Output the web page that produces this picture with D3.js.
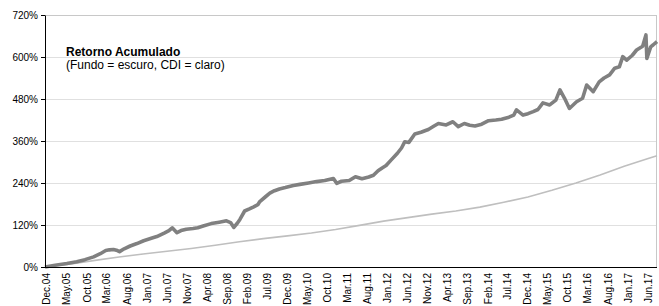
<!DOCTYPE html>
<html>
<head>
<meta charset="utf-8">
<script src="https://cdn.jsdelivr.net/npm/d3@7/dist/d3.min.js"></script>
<style>
  body { margin: 0; background: #fff; }
  svg { display: block; font-family: "Liberation Sans", Arial, sans-serif; }
</style>
</head>
<body>
<svg id="chart" width="659" height="306"></svg>
<script>
// fund (dark line)
const fundDates = ["2004-11-16","2005-02-01","2005-05-01","2005-07-15","2005-09-15","2005-11-20","2006-01-10","2006-02-20",
  "2006-03-20","2006-04-20","2006-05-20","2006-06-05","2006-07-10","2006-08-25","2006-10-15","2006-12-05",
  "2007-02-01","2007-03-15","2007-05-10","2007-06-15","2007-07-10","2007-08-15","2007-09-15","2007-10-25",
  "2007-12-15","2008-01-20","2008-03-01","2008-05-01","2008-07-01","2008-08-25","2008-09-25","2008-10-20",
  "2008-11-15","2008-12-05","2009-01-10","2009-02-15","2009-03-20","2009-04-20","2009-05-05","2009-06-15",
  "2009-07-20","2009-08-25","2009-10-01","2009-11-15","2010-01-15","2010-03-05","2010-05-10","2010-07-10",
  "2010-09-10","2010-11-15","2010-12-10","2011-01-15","2011-03-15","2011-05-01","2011-06-20","2011-08-10",
  "2011-09-15","2011-10-20","2011-11-20","2011-12-20","2012-01-28","2012-03-15","2012-04-15","2012-05-10",
  "2012-06-10","2012-07-25","2012-09-10","2012-10-15","2012-11-05","2012-12-15","2013-01-20","2013-03-20",
  "2013-05-10","2013-06-20","2013-08-05","2013-09-15","2013-10-25","2013-12-15","2014-02-05","2014-04-01",
  "2014-05-15","2014-07-10","2014-08-15","2014-09-05","2014-10-25","2014-12-01","2015-01-10","2015-02-15",
  "2015-03-25","2015-05-15","2015-07-01","2015-08-01","2015-09-05","2015-10-12","2015-12-05","2016-01-20",
  "2016-02-20","2016-04-10","2016-05-25","2016-07-01","2016-08-12","2016-09-20","2016-10-25","2016-11-20",
  "2016-12-20","2017-02-01","2017-03-05","2017-04-20","2017-05-15","2017-05-22","2017-06-20","2017-07-10",
  "2017-08-07"];
const fundValues = [0, 5, 10, 15, 21, 29, 38, 47,
  49, 50, 47, 44, 52, 60, 67, 75,
  82, 87, 97, 104, 112, 98, 104, 108,
  110, 112, 117, 124, 128, 132, 127, 113,
  125, 136, 160, 166, 172, 178, 187, 200,
  211, 218, 223, 227, 233, 236, 240, 244,
  247, 253, 239, 245, 247, 258, 252, 257,
  262, 275, 283, 290, 306, 325, 340, 358,
  356, 380, 385, 390, 393, 402, 410, 406,
  415, 401, 410, 405, 403, 408, 418, 420,
  422, 428, 434, 449, 434, 438, 444, 450,
  469, 463, 477, 506, 482, 453, 472, 482,
  520, 501, 529, 540, 549, 568, 572, 601,
  591, 605, 620, 631, 663, 596, 629, 635,
  644];

// CDI (light line)
const cdiDates = ["2004-11-16","2005-06-01","2005-12-01","2006-06-01","2006-12-01","2007-06-01","2007-12-01",
  "2008-06-01","2008-12-01","2009-06-01","2009-12-01","2010-06-01","2010-12-01","2011-06-01","2011-12-01",
  "2012-06-01","2012-12-01","2013-06-01","2013-12-01","2014-06-01","2014-12-01","2015-06-01","2015-12-01",
  "2016-06-01","2016-12-01","2017-06-01","2017-08-07"];
const cdiValues = [0, 8.5, 19, 28.5, 37, 45, 53,
  62, 72, 81, 89, 97, 107, 119, 131,
  141, 151, 160, 171, 185, 200, 219, 240,
  263, 288, 310, 318];

const yTicks = [0, 120, 240, 360, 480, 600, 720];
const xTickLabels = ["Dec.04","May.05","Oct.05","Mar.06","Aug.06","Jan.07","Jun.07","Nov.07","Apr.08","Sep.08",
  "Feb.09","Jul.09","Dec.09","May.10","Oct.10","Mar.11","Aug.11","Jan.12","Jun.12","Nov.12","Apr.13",
  "Sep.13","Feb.14","Jul.14","Dec.14","May.15","Oct.15","Mar.16","Aug.16","Jan.17","Jun.17"];

const margin = {top: 15, right: 2, bottom: 39, left: 45},
    width = 659 - margin.left - margin.right,
    height = 306 - margin.top - margin.bottom;

const parseDay = d3.timeParse("%Y-%m-%d");
const parseTick = d3.timeParse("%b.%y");

const fund = fundDates.map((d, i) => ({date: parseDay(d), value: fundValues[i]}));
const cdi = cdiDates.map((d, i) => ({date: parseDay(d), value: cdiValues[i]}));

const svg = d3.select("#chart");
const g = svg.append("g").attr("transform", `translate(${margin.left},${margin.top})`);

const x = d3.scaleTime()
    .domain([parseDay("2004-11-16"), parseDay("2017-08-07")])
    .range([0, width]);
const y = d3.scaleLinear().domain([0, 720]).range([height, 0]);

// grid
g.append("g").selectAll("line")
  .data(yTicks.filter(d => d > 0))
  .enter().append("line")
    .attr("x1", 0).attr("x2", width)
    .attr("y1", d => y(d) + 0.5).attr("y2", d => y(d) + 0.5)
    .attr("stroke", d => d === 720 ? "#c8c8c8" : "#e0e0e0");

g.append("line")
    .attr("x1", width - 0.5).attr("x2", width - 0.5)
    .attr("y1", 0).attr("y2", height)
    .attr("stroke", "#c8c8c8");

const line = d3.line().x(d => x(d.date)).y(d => y(d.value));

g.append("path").datum(cdi)
    .attr("d", line)
    .attr("fill", "none")
    .attr("stroke", "#bfbfbf")
    .attr("stroke-width", 1.6);

g.append("path").datum(fund)
    .attr("d", line)
    .attr("fill", "none")
    .attr("stroke", "#808080")
    .attr("stroke-width", 3.6)
    .attr("stroke-linejoin", "round");

// y axis
const yAxis = g.append("g")
    .call(d3.axisLeft(y).tickValues(yTicks).tickFormat(d => d + "%").tickSize(4).tickSizeOuter(0));
yAxis.selectAll("text").attr("font-size", 10).attr("fill", "#000").attr("font-family", "Liberation Sans, Arial, sans-serif");
yAxis.selectAll("line").attr("stroke", "#000");
yAxis.select(".domain").attr("stroke", "#000");

// x axis
g.append("line")
    .attr("x1", -4).attr("x2", width)
    .attr("y1", height + 0.5).attr("y2", height + 0.5)
    .attr("stroke", "#000");

g.append("g").selectAll("text")
  .data(xTickLabels)
  .enter().append("text")
    .attr("transform", d => `translate(${x(parseTick(d))},${height + 6}) rotate(-90)`)
    .attr("text-anchor", "end")
    .attr("dy", "0.35em")
    .attr("font-size", 10)
    .text(d => d);

// title
const title = g.append("text").attr("x", 21).attr("y", 40.5).attr("font-size", 12);
title.append("tspan").attr("font-weight", "bold").text("Retorno Acumulado");
title.append("tspan").attr("x", 21).attr("dy", 13).text("(Fundo = escuro, CDI = claro)");
</script>
</body>
</html>
